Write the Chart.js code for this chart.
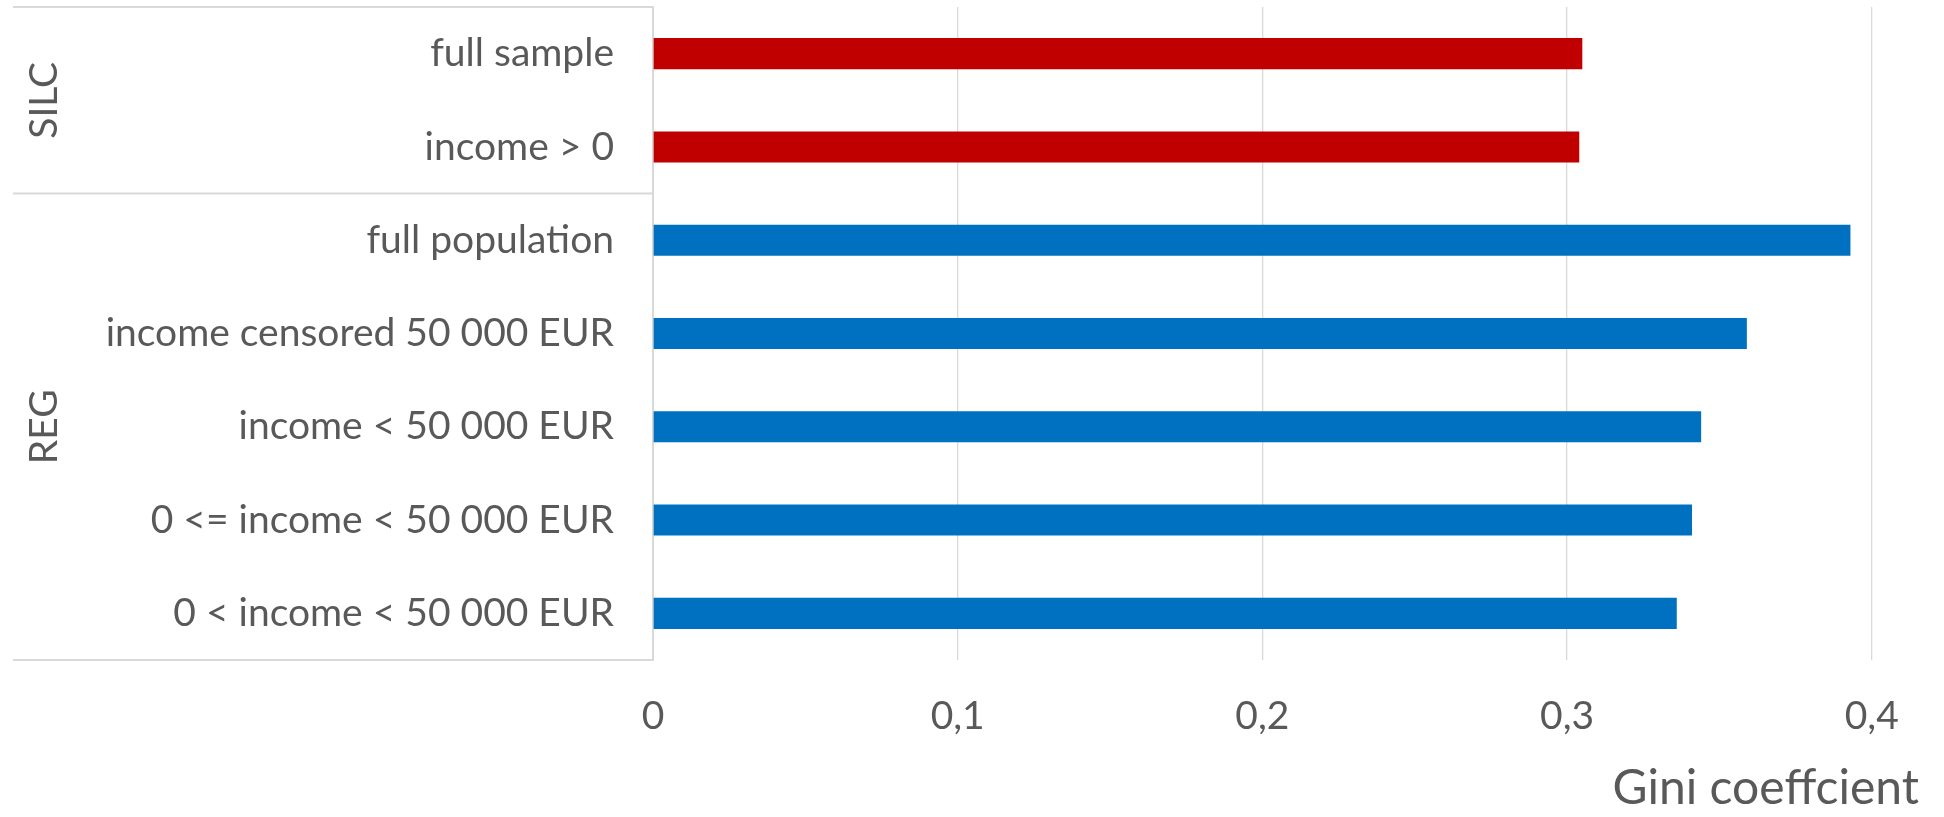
<!DOCTYPE html>
<html>
<head>
<meta charset="utf-8">
<script src="https://cdn.jsdelivr.net/npm/chart.js@4.4.1/dist/chart.umd.min.js"></script>
<style>
  html, body { margin: 0; padding: 0; background: #fff; }
  canvas { display: block; }
</style>
</head>
<body>
<canvas id="grafico" width="1944" height="817"></canvas>
<script>
// dados
const categorias = [
    'full sample',
    'income > 0',
    'full population',
    'income censored 50 000 EUR',
    'income < 50 000 EUR',
    '0 <= income < 50 000 EUR',
    '0 < income < 50 000 EUR'
];
const valoresGini = [0.305, 0.304, 0.393, 0.359, 0.344, 0.341, 0.336];
const grupos = ['SILC', 'REG'];
const tamanhoGrupos = [2, 5];
const ticksX = [0, 0.1, 0.2, 0.3, 0.4];
const tituloX = 'Gini coeffcient';

const corTexto = '#595959';
const corLinha = '#d9d9d9';
const fonte = 'Lato, "Open Sans", sans-serif';
const coresGrupo = ['#C00000', '#0070C0'];

// cor de cada barra conforme o grupo
const coresBarras = [];
grupos.forEach((g, i) => {
    for (let k = 0; k < tamanhoGrupos[i]; k++) coresBarras.push(coresGrupo[i]);
});

// caixas dos grupos à esquerda (linhas + rótulo vertical)
const caixaGrupos = {
    id: 'caixaGrupos',
    afterDraw(chart) {
        const ctx = chart.ctx;
        const y = chart.scales.y;
        const area = chart.chartArea;
        const xEsq = 13;
        ctx.save();
        ctx.strokeStyle = corLinha;
        ctx.lineWidth = 2;
        let inicio = 0;
        const linhas = [area.top];
        grupos.forEach((nome, i) => {
            const fim = inicio + tamanhoGrupos[i];
            const yTop = i === 0 ? area.top : y.getPixelForValue(inicio - 0.5);
            const yBot = i === grupos.length - 1 ? area.bottom : y.getPixelForValue(fim - 0.5);
            linhas.push(yBot);
            ctx.save();
            ctx.translate(44, (yTop + yBot) / 2);
            ctx.rotate(-Math.PI / 2);
            ctx.fillStyle = corTexto;
            ctx.font = '39px ' + fonte;
            ctx.textAlign = 'center';
            ctx.textBaseline = 'middle';
            ctx.fillText(nome, 0, 0);
            ctx.restore();
            inicio = fim;
        });
        linhas.forEach(py => {
            ctx.beginPath();
            ctx.moveTo(xEsq, py);
            ctx.lineTo(area.left, py);
            ctx.stroke();
        });
        ctx.restore();
    }
};

const ctx = document.getElementById('grafico').getContext('2d');
new Chart(ctx, {
    type: 'bar',
    data: {
        labels: categorias,
        datasets: [{
            data: valoresGini,
            backgroundColor: coresBarras,
            borderWidth: 0,
            barPercentage: 0.333,
            categoryPercentage: 1
        }]
    },
    options: {
        indexAxis: 'y',
        responsive: false,
        devicePixelRatio: 1,
        animation: false,
        layout: { padding: { top: 7, right: 25, left: 0, bottom: 0 } },
        plugins: {
            legend: { display: false },
            tooltip: { enabled: false }
        },
        scales: {
            x: {
                min: 0,
                max: 0.4155,
                afterBuildTicks(scale) {
                    scale.ticks = ticksX.map(v => ({ value: v }));
                },
                afterFit(scale) {
                    scale.height = 157;
                    scale.paddingLeft = 0;
                    scale.paddingRight = 0;
                },
                grid: { color: corLinha, lineWidth: 1.3, drawTicks: false },
                border: { display: false },
                ticks: {
                    padding: 33,
                    color: corTexto,
                    font: { family: fonte, size: 39 },
                    callback: v => String(v).replace('.', ',')
                },
                title: {
                    display: true,
                    text: tituloX,
                    align: 'end',
                    color: corTexto,
                    font: { family: fonte, size: 48 },
                    padding: { top: 0, bottom: 0 }
                }
            },
            y: {
                afterFit(scale) {
                    scale.width = 653;
                    scale.paddingTop = 0;
                    scale.paddingBottom = 0;
                },
                grid: { display: false, drawTicks: false },
                border: { display: true, color: corLinha, width: 2 },
                ticks: {
                    padding: 39,
                    color: corTexto,
                    font: { family: fonte, size: 39 }
                }
            }
        }
    },
    plugins: [caixaGrupos]
});
</script>
</body>
</html>
